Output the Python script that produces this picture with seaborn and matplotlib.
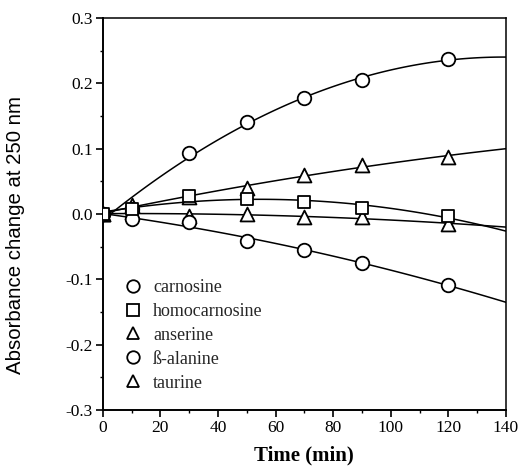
import matplotlib
matplotlib.use("Agg")
import matplotlib.pyplot as plt
from matplotlib.ticker import MultipleLocator
from matplotlib.lines import Line2D
import seaborn as sns
import pandas as pd

sns.set_theme(style="ticks")
plt.rcParams['font.family'] = ['Liberation Serif', 'DejaVu Serif']

# ---- data ----
time_min = [0, 10, 30, 50, 70, 90, 120]
carnosine = [0.000, 0.008, 0.094, 0.141, 0.178, 0.205, 0.237]
homocarnosine = [0.000, 0.008, 0.027, 0.023, 0.018, 0.009, -0.003]
anserine = [0.000, 0.014, 0.026, 0.040, 0.059, 0.075, 0.088]
beta_alanine = [0.000, -0.008, -0.012, -0.041, -0.055, -0.075, -0.109]
taurine = [0.000, 0.003, -0.003, 0.000, -0.005, -0.005, -0.015]

series_names = ["carnosine", "homocarnosine", "anserine", "ß-alanine", "taurine"]
series_values = [carnosine, homocarnosine, anserine, beta_alanine, taurine]
series_markers = ["o", "s", "^", "o", "^"]
series_sizes = [95, 85, 100, 95, 100]

x_ticks = [0, 20, 40, 60, 80, 100, 120, 140]
y_ticks = [-0.3, -0.2, -0.1, 0.0, 0.1, 0.2, 0.3]
y_tick_labels = ["-0.3", "-0.2", "-0.1", "0.0", "0.1", "0.2", "0.3"]

fig = plt.figure(figsize=(5.23, 4.70), dpi=100)
ax = fig.add_axes([0.1964, 0.1277, 0.7711, 0.8340])
ax.set_xlim(0, 140)
ax.set_ylim(-0.3, 0.3)

frames = []
for name, vals in zip(series_names, series_values):
    frames.append(pd.DataFrame({"t": time_min, "a": vals, "s": name}))
df = pd.concat(frames, ignore_index=True)

# fitted curves (quadratic fit through each series)
for name in series_names:
    sub = df[df["s"] == name]
    sns.regplot(data=sub, x="t", y="a", order=2, ci=None, scatter=False,
                truncate=False, ax=ax,
                line_kws=dict(color="black", lw=1.1, zorder=2))

# markers
order_draw = [2, 4, 0, 3, 1]
for i in order_draw:
    name = series_names[i]
    sub = df[df["s"] == name]
    sns.scatterplot(data=sub, x="t", y="a", marker=series_markers[i],
                    s=series_sizes[i], facecolor="white", edgecolor="black",
                    linewidth=1.3, ax=ax, zorder=3, legend=False)

leg_handles = [Line2D([], [], ls="none", marker=m, markersize=9,
                      markerfacecolor="white", markeredgecolor="black",
                      markeredgewidth=1.3) for m in series_markers]
ax.legend(leg_handles, series_names, loc="upper left",
          bbox_to_anchor=(0.053, 0.334), frameon=False,
          prop=dict(family="Liberation Serif", size=13),
          handlelength=1.0, handletextpad=0.6, labelspacing=0.38,
          borderpad=0, borderaxespad=0)

ax.xaxis.set_minor_locator(MultipleLocator(10))
ax.yaxis.set_minor_locator(MultipleLocator(0.05))
ax.set_xticks(x_ticks)
ax.set_yticks(y_ticks)
ax.set_yticklabels(y_tick_labels)

ax.tick_params(axis="both", which="major", direction="out", length=5,
               width=1.2, color="black", labelsize=12.5, labelcolor="black",
               pad=2)
ax.tick_params(axis="both", which="minor", direction="out", length=2.5,
               width=1.0, color="black")
for lab in ax.get_xticklabels() + ax.get_yticklabels():
    lab.set_family("Liberation Serif")

for side, sp in ax.spines.items():
    sp.set_color("black")
    sp.set_linewidth(1.4 if side in ("left", "bottom") else 1.1)
    sp.set_visible(True)

ax.set_xlabel("Time (min)", fontsize=15, fontweight="bold",
              family="Liberation Serif", color="black")
ax.xaxis.set_label_coords(0.5, -0.09)
ax.set_ylabel("Absorbance change at 250 nm", fontsize=14.7,
              family=["Liberation Sans", "DejaVu Sans"], color="black")
ax.yaxis.set_label_coords(-0.192, 0.446)

fig.savefig("out.png", dpi=100, facecolor="white")
